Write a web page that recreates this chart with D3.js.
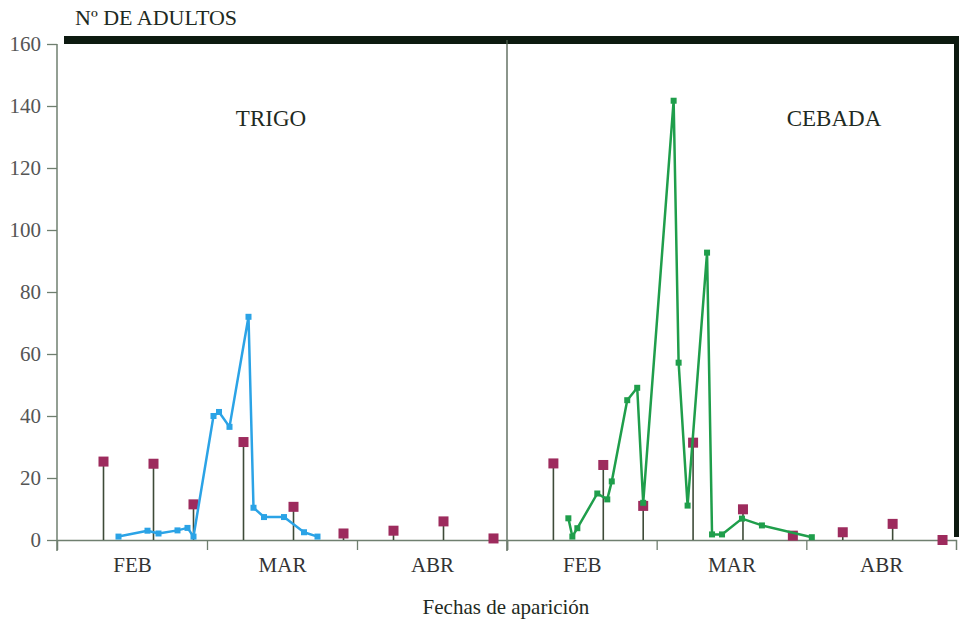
<!DOCTYPE html>
<html><head><meta charset="utf-8">
<script src="https://cdn.jsdelivr.net/npm/d3@7/dist/d3.min.js"></script>
<style>
html,body{margin:0;padding:0;background:#fff;}
svg{display:block;}
text{font-family:"Liberation Serif","Times New Roman",serif;}
</style></head>
<body>
<svg id="chart" width="959" height="623"></svg>
<script>
// ---- data ----
const months = ["FEB","MAR","ABR"];
const yTicks = [0,20,40,60,80,100,120,140,160];
const panels = ["TRIGO","CEBADA"];
// x in "month units" (30 units per month, 0 = start of FEB)
const trigoX = [12.3,18.1,20.3,24.1,26.1,27.3,31.3,32.4,34.5,38.3,39.3,41.4,45.4,49.4,52.1];
const trigoY = [1.1,3.0,2.1,3.1,3.9,1.1,40,41.3,36.5,72,10.4,7.4,7.4,2.5,1.1];
const cebadaX = [12.3,13.1,14.1,18.1,20.1,21.0,24.1,26.1,27.3,33.4,34.4,36.2,40.1,41.1,43.1,47.1,51.1,61.1];
const cebadaY = [7.0,1.1,3.8,15.0,13.1,18.9,45.1,49.1,12.0,141.7,57.2,11.1,92.7,1.8,1.8,6.9,4.7,0.9];
const stemX = [9.3,19.3,27.3,37.3,47.3,57.3,67.3,77.3,87.3];
const trigoStems = [25.3,24.6,11.5,31.6,10.7,2.1,3.0,6.0,0.5];
const cebadaStems = [24.7,24.2,11.0,31.4,9.9,1.4,2.5,5.2,0.0];

// ---- layout ----
const svg = d3.select("#chart");
const y = d3.scaleLinear().domain([0,160]).range([540,44]);
const xL = d3.scaleLinear().domain([0,90]).range([57,507]);
const xR = d3.scaleLinear().domain([0,90]).range([507,956]);
const axisCol = "#6f7f6f";
const stemCol = "#3e4b38";
const magenta = "#9d2b5d";

// frame
svg.append("line").attr("x1",64).attr("x2",959).attr("y1",40).attr("y2",40)
  .attr("stroke","#0d1a10").attr("stroke-width",8);
svg.append("line").attr("x1",956.5).attr("x2",956.5).attr("y1",36).attr("y2",537)
  .attr("stroke","#0d1a10").attr("stroke-width",5);
// left axis
const ya = svg.append("g").attr("transform","translate(57,0)")
  .call(d3.axisLeft(y).tickValues(yTicks).tickSize(10).tickPadding(6));
ya.select(".domain").remove();
ya.selectAll(".tick line").attr("stroke",axisCol).attr("stroke-width",1.3);
ya.selectAll(".tick text").attr("fill","#555").style("font-size","21px")
  .style("font-family","'Liberation Serif',serif");
svg.append("line").attr("x1",57).attr("x2",57).attr("y1",44).attr("y2",551)
  .attr("stroke",axisCol).attr("stroke-width",1.5);
// divider
svg.append("line").attr("x1",507).attr("x2",507).attr("y1",40).attr("y2",551)
  .attr("stroke","#4d5d4d").attr("stroke-width",1.3);

function panel(x, name, sx, sy, stems, col, labelX){
  // x axis
  const xa = svg.append("g").attr("transform","translate(0,540)")
    .call(d3.axisBottom(x).tickValues([30,60]).tickSize(10).tickFormat(""));
  xa.select(".domain").attr("stroke",axisCol).attr("stroke-width",1.5);
  xa.selectAll(".tick line").attr("stroke",axisCol).attr("stroke-width",1.3);
  const ml = svg.append("g").attr("transform","translate(0,540)")
    .call(d3.axisBottom(x).tickValues([15,45,75]).tickSize(0).tickPadding(17)
      .tickFormat((d,i)=>months[i]));
  ml.select(".domain").remove();
  ml.selectAll("text").attr("fill","#333").style("font-size","21px")
    .style("font-family","'Liberation Serif',serif");
  // stems
  const g = svg.append("g");
  g.selectAll("line.stem").data(stems).join("line").attr("class","stem")
    .attr("x1",(d,i)=>x(stemX[i])).attr("x2",(d,i)=>x(stemX[i]))
    .attr("y1",y(0)).attr("y2",d=>y(d))
    .attr("stroke",stemCol).attr("stroke-width",1.6);
  g.selectAll("rect.stem").data(stems).join("rect").attr("class","stem")
    .attr("x",(d,i)=>x(stemX[i])-5).attr("y",d=>y(d)-5)
    .attr("width",10).attr("height",10).attr("fill",magenta);
  // series
  const pts = sx.map((v,i)=>[v,sy[i]]);
  g.append("path").datum(pts)
    .attr("d",d3.line().x(d=>x(d[0])).y(d=>y(d[1])))
    .attr("fill","none").attr("stroke",col).attr("stroke-width",2.5)
    .attr("stroke-linejoin","round");
  g.selectAll("rect.pt").data(pts).join("rect").attr("class","pt")
    .attr("x",d=>x(d[0])-3).attr("y",d=>y(d[1])-3)
    .attr("width",6).attr("height",6).attr("fill",col);
  svg.append("text").attr("x",labelX).attr("y",126).attr("text-anchor","middle")
    .attr("fill","#1e2a22").style("font-size","23px").text(name);
}
panel(xL, panels[0], trigoX, trigoY, trigoStems, "#2ba3e6", 271);
panel(xR, panels[1], cebadaX, cebadaY, cebadaStems, "#1f9e4b", 834);

svg.append("text").attr("x",75).attr("y",25).attr("fill","#1e2a22")
  .style("font-size","22px").text("Nº DE ADULTOS");
svg.append("text").attr("x",506).attr("y",614).attr("text-anchor","middle")
  .attr("fill","#1e2a22").style("font-size","21px").text("Fechas de aparición");
</script>
</body></html>
